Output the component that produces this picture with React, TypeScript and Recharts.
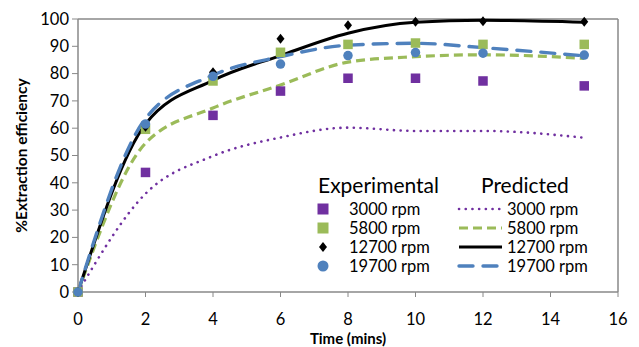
import React from 'react';
import { ComposedChart, Line, XAxis, YAxis, ReferenceLine, Legend } from 'recharts';

const times = [0, 2, 4, 6, 8, 10, 12, 15];
const seriesNames = ['3000 rpm', '5800 rpm', '12700 rpm', '19700 rpm'];

const exp3000 = [0, 43.8, 64.7, 73.6, 78.3, 78.3, 77.3, 75.5];
const exp5800 = [0, 59.6, 77.3, 87.8, 90.7, 91.2, 90.7, 90.7];
const exp12700 = [0, 60.5, 80.5, 92.8, 97.7, 99.0, 99.2, 99.0];
const exp19700 = [0, 61.5, 79.0, 83.5, 86.6, 87.7, 87.5, 86.8];

const pred3000 = [0, 36.0, 49.8, 56.6, 60.2, 59.0, 59.0, 56.5];
const pred5800 = [0, 54.5, 67.4, 75.8, 84.2, 86.2, 86.9, 85.6];
const pred12700 = [0, 61.5, 77.5, 86.6, 94.8, 98.8, 99.5, 98.8];
const pred19700 = [0, 63.5, 79.4, 86.2, 90.4, 91.1, 89.5, 86.5];

const xTicks = [0, 2, 4, 6, 8, 10, 12, 14, 16];
const yTicks = [0, 10, 20, 30, 40, 50, 60, 70, 80, 90, 100];

const PURPLE = '#7030A0';
const GREEN = '#9BBB59';
const BLACK = '#000000';
const BLUE = '#4F81BD';
const AXIS = '#888888';
const FONT = 'Lato, "Open Sans", sans-serif';

const expSeries = [
  { key: 'e3000', name: seriesNames[0], values: exp3000, color: PURPLE, shape: 'square' },
  { key: 'e5800', name: seriesNames[1], values: exp5800, color: GREEN, shape: 'square' },
  { key: 'e12700', name: seriesNames[2], values: exp12700, color: BLACK, shape: 'diamond' },
  { key: 'e19700', name: seriesNames[3], values: exp19700, color: BLUE, shape: 'circle' },
];

const predSeries = [
  { key: 'p3000', name: seriesNames[0], values: pred3000, color: PURPLE, width: 2.6, dash: '0.1 6.6', cap: 'round' },
  { key: 'p5800', name: seriesNames[1], values: pred5800, color: GREEN, width: 3.2, dash: '9 5', cap: 'butt' },
  { key: 'p12700', name: seriesNames[2], values: pred12700, color: BLACK, width: 3, dash: undefined, cap: 'butt' },
  { key: 'p19700', name: seriesNames[3], values: pred19700, color: BLUE, width: 3.4, dash: '14 10', cap: 'round' },
];

const rows = times.map((t, i) => {
  const r: any = { t };
  expSeries.forEach((s) => (r[s.key] = s.values[i]));
  predSeries.forEach((s) => (r[s.key] = s.values[i]));
  return r;
});

function Marker({ shape, color, cx, cy, size }: any) {
  const h = size / 2;
  if (shape === 'square') {
    return <rect x={cx - h} y={cy - h} width={size} height={size} fill={color} />;
  }
  if (shape === 'diamond') {
    return (
      <polygon
        points={`${cx},${cy - h - 0.5} ${cx + h - 0.5},${cy} ${cx},${cy + h + 0.5} ${cx - h + 0.5},${cy}`}
        fill={color}
      />
    );
  }
  return <circle cx={cx} cy={cy} r={h} fill={color} />;
}

const makeDot = (shape: string, color: string) => (props: any) => {
  const { cx, cy, index } = props;
  if (cx == null || cy == null) return <g key={`d-${index}`} />;
  return (
    <g key={`d-${shape}-${color}-${index}`}>
      <Marker shape={shape} color={color} cx={cx} cy={cy} size={shape === 'diamond' ? 9 : 9.5} />
    </g>
  );
};

function LegendBox() {
  const rowY = [209, 228, 247, 266];
  const textStyle: React.CSSProperties = {
    position: 'absolute',
    fontFamily: FONT,
    fontSize: 16.5,
    color: '#000',
    lineHeight: '20px',
    whiteSpace: 'nowrap',
  };
  return (
    <div style={{ position: 'relative', width: 639, height: 347 }}>
      <div style={{ ...textStyle, left: 318, top: 172, fontSize: 21, lineHeight: '26px' }}>Experimental</div>
      <div style={{ ...textStyle, left: 481, top: 172, fontSize: 21, lineHeight: '26px' }}>Predicted</div>
      {expSeries.map((s, i) => (
        <React.Fragment key={s.key}>
          <svg style={{ position: 'absolute', left: 315, top: rowY[i] - 8 }} width={16} height={16}>
            <Marker shape={s.shape} color={s.color} cx={8} cy={8} size={s.shape === 'diamond' ? 9 : 11} />
          </svg>
          <div style={{ ...textStyle, left: 349, top: rowY[i] - 10.5 }}>{s.name}</div>
        </React.Fragment>
      ))}
      {predSeries.map((s, i) => (
        <React.Fragment key={s.key}>
          <svg style={{ position: 'absolute', left: 456, top: rowY[i] - 5 }} width={50} height={10}>
            <line
              x1={3}
              x2={46}
              y1={5}
              y2={5}
              stroke={s.color}
              strokeWidth={s.width}
              strokeDasharray={s.dash}
              strokeLinecap={s.cap as any}
            />
          </svg>
          <div style={{ ...textStyle, left: 507, top: rowY[i] - 10.5 }}>{s.name}</div>
        </React.Fragment>
      ))}
    </div>
  );
}

const YTitle = (props: any) => {
  const vb = props.viewBox || { x: 0, y: 19, width: 78, height: 273 };
  const cx = 21;
  const cy = vb.y + vb.height / 2;
  return (
    <text
      x={cx}
      y={cy}
      transform={`rotate(-90 ${cx} ${cy})`}
      textAnchor="middle"
      dominantBaseline="central"
      fontFamily={FONT}
      fontWeight="bold"
      fontSize={15.5}
      fill="#000"
    >
      %Extraction efficiency
    </text>
  );
};

const XTitle = (props: any) => {
  const vb = props.viewBox || { x: 78, y: 292, width: 540, height: 55 };
  const cx = vb.x + vb.width / 2;
  return (
    <text x={cx} y={344} textAnchor="middle" fontFamily={FONT} fontWeight="bold" fontSize={15} fill="#000">
      Time (mins)
    </text>
  );
};

export default function App() {
  return (
    <div style={{ position: 'absolute', left: 0, top: 0, width: 639, height: 347, background: '#fff', overflow: 'hidden' }}>
      <ComposedChart width={639} height={347} data={rows} margin={{ top: 19, right: 21, bottom: 0, left: 0 }}>
        <XAxis
          type="number"
          dataKey="t"
          domain={[0, 16]}
          ticks={xTicks}
          interval={0}
          height={55}
          tickSize={5}
          tickMargin={16}
          axisLine={{ stroke: AXIS, strokeWidth: 1.5 }}
          tickLine={{ stroke: AXIS, strokeWidth: 1 }}
          tick={{ fill: '#000', fontSize: 16.5, fontFamily: FONT }}
          label={<XTitle />}
        />
        <YAxis
          type="number"
          domain={[0, 100]}
          ticks={yTicks}
          interval={0}
          width={78}
          tickSize={6}
          tickMargin={3}
          axisLine={{ stroke: AXIS, strokeWidth: 1.5 }}
          tickLine={{ stroke: AXIS, strokeWidth: 1 }}
          tick={{ fill: '#000', fontSize: 16.5, fontFamily: FONT }}
          label={<YTitle />}
        />
        <ReferenceLine y={100} stroke={AXIS} strokeWidth={1.5} ifOverflow="visible" />
        <ReferenceLine x={16} stroke={AXIS} strokeWidth={1.5} ifOverflow="visible" />
        {predSeries.map((s) => (
          <Line
            key={s.key}
            type="monotone"
            dataKey={s.key}
            stroke={s.color}
            strokeWidth={s.width}
            strokeDasharray={s.dash}
            strokeLinecap={s.cap as any}
            dot={false}
            activeDot={false}
            isAnimationActive={false}
          />
        ))}
        {expSeries.map((s) => (
          <Line
            key={s.key}
            type="linear"
            dataKey={s.key}
            stroke="none"
            dot={makeDot(s.shape, s.color)}
            activeDot={false}
            isAnimationActive={false}
          />
        ))}
        <Legend
          layout="horizontal"
          verticalAlign="middle"
          align="center"
          content={() => <LegendBox />}
          wrapperStyle={{ left: 0, top: 0, width: 639, height: 347, pointerEvents: 'none' }}
        />
      </ComposedChart>
    </div>
  );
}
